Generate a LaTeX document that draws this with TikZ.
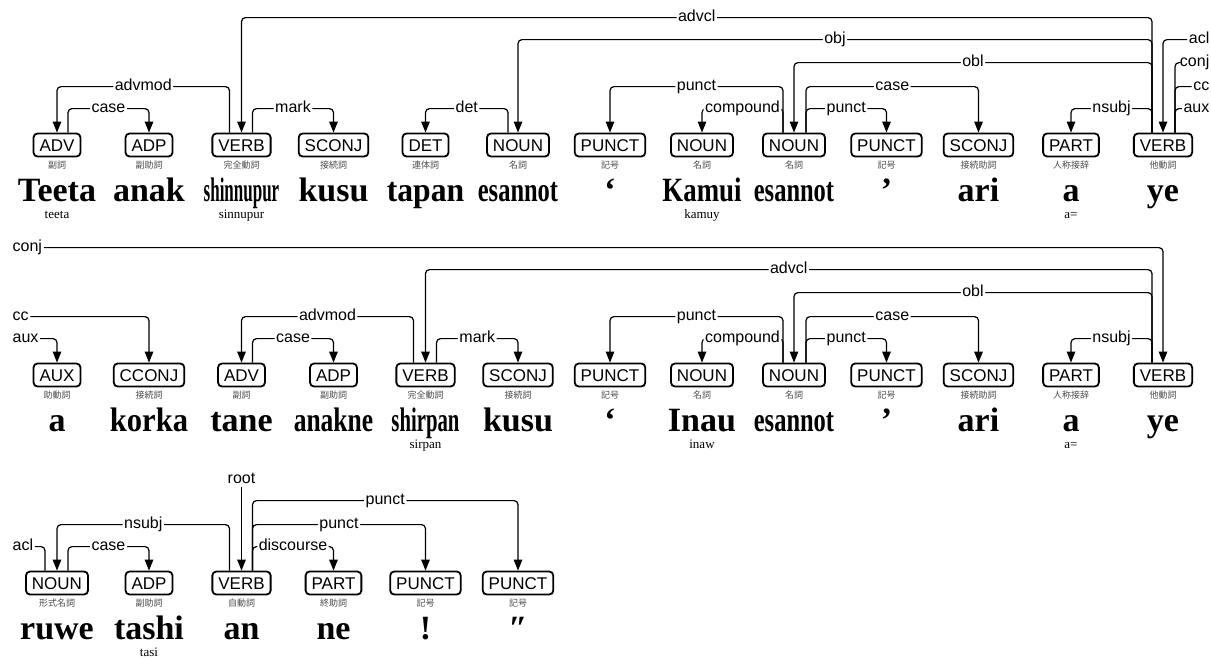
\documentclass[tikz,border=0pt]{standalone}
\usepackage{fontspec}
\usepackage{graphicx}
\setmainfont{Liberation Serif}
\setsansfont{Liberation Sans}
\newfontfamily\cjk{Noto Sans CJK JP}
\usetikzlibrary{arrows.meta}

\tikzset{
	upos/.style={draw, line width=1.8pt, rounded corners=4pt, minimum height=23pt,
		inner xsep=6pt, inner ysep=0pt, text height=12.3pt, text depth=0pt,
		font=\sffamily\fontsize{17}{17}\selectfont},
	xpos/.style={inner sep=0pt, text=black!70, font=\cjk\fontsize{9}{9}\selectfont},
	form/.style={anchor=base, inner sep=0pt, font=\bfseries\fontsize{34}{34}\selectfont},
	gloss/.style={anchor=base, inner sep=0pt, font=\fontsize{13}{13}\selectfont},
	lbl/.style={fill=white, inner xsep=1.5pt, inner ysep=0pt, text height=11.5pt,
		text depth=3.5pt, font=\sffamily\fontsize{16}{16}\selectfont},
	dep/.style={line width=1.2pt, rounded corners=4pt, -{Triangle[length=11pt,width=8.5pt]}},
	link/.style={line width=1.2pt, rounded corners=4pt},
}

% box, tag, surface form and gloss of one word
\newcommand{\wordbox}[7]{%
	\node[upos] (#1) at (#2,#3) {#4};
	\node[xpos] (#1x) at (#2,#3+20) {#5};
	\node[form] (#1f) at (#2,#3+56) {#6};
	\node[gloss] (#1g) at (#2,#3+73) {#7};
}
% arc from head (shifted sideways) to dependent
\newcommand{\deparc}[5]{%
	\draw[dep] ([xshift=#2pt]#1.north) |- node[lbl,pos=.75] {#5} ([yshift=#4pt]#3.north) -- (#3.north);
}

\begin{document}
\begin{tikzpicture}[x=1pt, y=-1pt]
	\useasboundingbox (0,0) rectangle (1211,657);

	% First line.
	\wordbox{a1}{57}{145}{ADV}{副詞}{Teeta}{teeta}
	\wordbox{a2}{149}{145}{ADP}{副助詞}{anak}{}
	\wordbox{a3}{241.5}{145}{VERB}{完全動詞}{\scalebox{.5}[1]{shinnupur}}{sinnupur}
	\wordbox{a4}{333.5}{145}{SCONJ}{接続詞}{kusu}{}
	\wordbox{a5}{425.5}{145}{DET}{連体詞}{\scalebox{.93}[1]{tapan}}{}
	\wordbox{a6}{518}{145}{NOUN}{名詞}{\scalebox{.72}[1]{esannot}}{}
	\wordbox{a7}{610}{145}{PUNCT}{記号}{‘}{}
	\wordbox{a8}{702}{145}{NOUN}{名詞}{\scalebox{.79}[1]{Kamui}}{kamuy}
	\wordbox{a9}{794}{145}{NOUN}{名詞}{\scalebox{.72}[1]{esannot}}{}
	\wordbox{a10}{886.5}{145}{PUNCT}{記号}{’}{}
	\wordbox{a11}{978.5}{145}{SCONJ}{接続助詞}{ari}{}
	\wordbox{a12}{1071}{145}{PART}{人称接辞}{a}{a=}
	\wordbox{a13}{1163}{145}{VERB}{他動詞}{ye}{}

	\deparc{a3}{-12}{a1}{46}{advmod}
	\deparc{a1}{11}{a2}{24}{case}
	\deparc{a3}{11}{a4}{24}{mark}
	\deparc{a6}{-10}{a5}{24}{det}
	\deparc{a9}{-11}{a7}{46}{punct}
	\deparc{a9}{-11}{a8}{24}{compound}
	\deparc{a9}{12}{a10}{24}{punct}
	\deparc{a9}{12}{a11}{46}{case}
	\deparc{a13}{-11}{a12}{24}{nsubj}
	\deparc{a13}{-11}{a9}{70}{obl}
	\deparc{a13}{-11}{a6}{93}{obj}
	\deparc{a13}{-11}{a3}{115}{advcl}

	% links running off to the right
	\node[lbl,anchor=east] (aclR) at (1211,39.6) {acl};
	\node[lbl,anchor=east] (conjR) at (1211,62.6) {conj};
	\node[lbl,anchor=east] (ccR) at (1211,86.6) {cc};
	\node[lbl,anchor=east] (auxR) at (1211,108.6) {aux};
	\draw[dep] (aclR.west) -| (a13.north);
	\draw[link] ([xshift=12pt]a13.north) |- (conjR.west);
	\draw[link] ([xshift=12pt]a13.north) |- (ccR.west);
	\draw[link] ([xshift=12pt]a13.north) |- (auxR.west);

	% Second line.
	\wordbox{b1}{57}{375}{AUX}{助動詞}{a}{}
	\wordbox{b2}{149}{375}{CCONJ}{接続詞}{\scalebox{.9}[1]{korka}}{}
	\wordbox{b3}{241.5}{375}{ADV}{副詞}{tane}{}
	\wordbox{b4}{333.5}{375}{ADP}{副助詞}{\scalebox{.75}[1]{anakne}}{}
	\wordbox{b5}{425.5}{375}{VERB}{完全動詞}{\scalebox{.61}[1]{shirpan}}{sirpan}
	\wordbox{b6}{518}{375}{SCONJ}{接続詞}{kusu}{}
	\wordbox{b7}{610}{375}{PUNCT}{記号}{‘}{}
	\wordbox{b8}{702}{375}{NOUN}{名詞}{Inau}{inaw}
	\wordbox{b9}{794}{375}{NOUN}{名詞}{\scalebox{.72}[1]{esannot}}{}
	\wordbox{b10}{886.5}{375}{PUNCT}{記号}{’}{}
	\wordbox{b11}{978.5}{375}{SCONJ}{接続助詞}{ari}{}
	\wordbox{b12}{1071}{375}{PART}{人称接辞}{a}{a=}
	\wordbox{b13}{1163}{375}{VERB}{他動詞}{ye}{}

	\deparc{b5}{-12}{b3}{46}{advmod}
	\deparc{b3}{11}{b4}{24}{case}
	\deparc{b5}{11}{b6}{24}{mark}
	\deparc{b9}{-11}{b7}{46}{punct}
	\deparc{b9}{-11}{b8}{24}{compound}
	\deparc{b9}{12}{b10}{24}{punct}
	\deparc{b9}{12}{b11}{46}{case}
	\deparc{b13}{-11}{b12}{24}{nsubj}
	\deparc{b13}{-11}{b9}{70}{obl}
	\deparc{b13}{-11}{b5}{93}{advcl}

	% links coming in from the left
	\node[lbl,anchor=west] (conjL) at (11,247.6) {conj};
	\node[lbl,anchor=west] (ccL) at (11,316.6) {cc};
	\node[lbl,anchor=west] (auxL) at (11,338.6) {aux};
	\draw[dep] (conjL.east) -| (b13.north);
	\draw[dep] (ccL.east) -| (b2.north);
	\draw[dep] (auxL.east) -| (b1.north);

	% Third line.
	\wordbox{c1}{57}{583}{NOUN}{形式名詞}{ruwe}{}
	\wordbox{c2}{149}{583}{ADP}{副助詞}{tashi}{tasi}
	\wordbox{c3}{241.5}{583}{VERB}{自動詞}{an}{}
	\wordbox{c4}{333.5}{583}{PART}{終助詞}{ne}{}
	\wordbox{c5}{425.5}{583}{PUNCT}{記号}{!}{}
	\wordbox{c6}{518}{583}{PUNCT}{記号}{″}{}

	\deparc{c3}{-12}{c1}{46}{nsubj}
	\deparc{c1}{11}{c2}{24}{case}
	\deparc{c3}{11}{c4}{24}{discourse}
	\deparc{c3}{11}{c5}{46}{punct}
	\deparc{c3}{11}{c6}{70}{punct}

	\node[lbl] (root) at (241.5,479) {root};
	\draw[dep] (root.south) -- (c3.north);
	\node[lbl,anchor=west] (aclL) at (11,546.6) {acl};
	\draw[link] ([xshift=-12pt]c1.north) |- (aclL.east);
\end{tikzpicture}
\end{document}
